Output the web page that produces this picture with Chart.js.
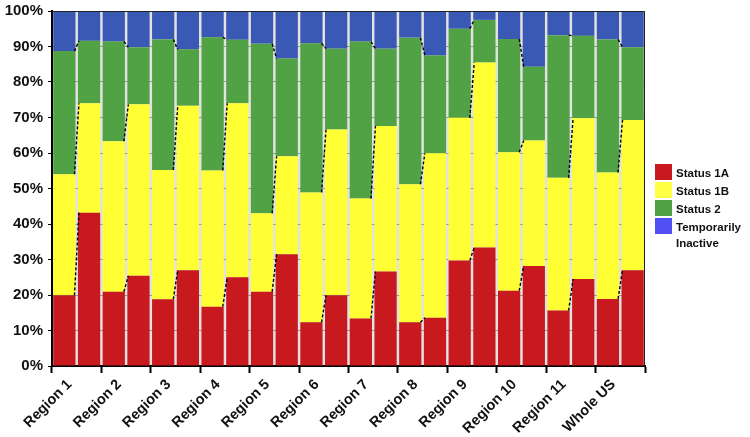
<!DOCTYPE html>
<html>
<head>
<meta charset="utf-8">
<script src="https://cdn.jsdelivr.net/npm/chart.js@4"></script>
<style>
    body { margin: 0; background: #fff; }
    #wrap { position: relative; width: 750px; height: 437px; font-family: Arial, "Liberation Sans", sans-serif; }
    #legend { position: absolute; left: 655px; top: 164px; }
    .item { position: relative; height: 18px; font-weight: bold; font-size: 11.5px; color: #111; }
    .item .box { position: absolute; left: 0; top: 0; width: 17px; height: 16px; }
    .item span { position: absolute; left: 21px; top: 1px; line-height: 16px; white-space: nowrap; }
</style>
</head>
<body>
<div id="wrap">
    <canvas id="chart" width="750" height="437"></canvas>
    <div id="legend"></div>
</div>
<script>
// Categories
const regions = ['Region 1', 'Region 2', 'Region 3', 'Region 4', 'Region 5', 'Region 6',
    'Region 7', 'Region 8', 'Region 9', 'Region 10', 'Region 11', 'Whole US'];

// First bar of each pair (percent)
const s1aFirst = [19.9, 20.9, 18.8, 16.7, 20.9, 12.3, 13.4, 12.3, 29.7, 21.2, 15.6, 18.9];
const s1bFirst = [34.1, 42.4, 36.4, 38.4, 22.1, 36.6, 33.8, 38.9, 40.2, 39.0, 37.4, 35.6];
const s2First  = [34.7, 28.1, 36.8, 37.5, 47.8, 42.0, 44.2, 41.3, 25.1, 31.9, 40.2, 37.5];
const tiFirst  = [11.3, 8.6, 8.0, 7.4, 9.2, 9.1, 8.6, 7.5, 5.0, 7.9, 6.8, 8.0];

// Second bar of each pair (percent)
const s1aSecond = [43.2, 25.4, 27.0, 25.0, 31.5, 19.9, 26.6, 13.6, 33.4, 28.2, 24.5, 27.0];
const s1bSecond = [30.8, 48.3, 46.3, 49.0, 27.6, 46.7, 41.0, 46.3, 52.1, 35.3, 45.3, 42.3];
const s2Second  = [17.6, 16.1, 15.9, 17.9, 27.5, 22.8, 21.8, 27.6, 12.0, 20.8, 23.2, 20.5];
const tiSecond  = [8.4, 10.2, 10.8, 8.1, 13.4, 10.6, 10.6, 12.5, 2.5, 15.7, 7.0, 10.2];

const yTicks = [0, 10, 20, 30, 40, 50, 60, 70, 80, 90, 100];

const statusNames = ['Status 1A', 'Status 1B', 'Status 2', 'Temporarily Inactive'];
const barColors = ['#c8191e', '#ffff33', '#51a145', '#3a59b4'];
const legendColors = ['#c8191e', '#ffff44', '#51a145', '#5050f5'];

const firstSets = [s1aFirst, s1bFirst, s2First, tiFirst];
const secondSets = [s1aSecond, s1bSecond, s2Second, tiSecond];

const datasets = [];
firstSets.forEach((d, i) => {
    datasets.push({ label: statusNames[i], data: d, backgroundColor: barColors[i], stack: 'first' });
});
secondSets.forEach((d, i) => {
    datasets.push({ label: statusNames[i], data: d, backgroundColor: barColors[i], stack: 'second' });
});

// Grey background behind bars, box border and dashed connectors
const pairPlugin = {
    id: 'pairPlugin',
    beforeDraw(chart) {
        const a = chart.chartArea;
        const ctx = chart.ctx;
        ctx.save();
        ctx.fillStyle = '#e2e2e2';
        ctx.fillRect(a.left, a.top, a.right - a.left, a.bottom - a.top);
        ctx.restore();
    },
    afterDatasetsDraw(chart) {
        const ctx = chart.ctx;
        ctx.save();
        ctx.strokeStyle = '#000';
        ctx.lineWidth = 1.4;
        ctx.setLineDash([3, 2]);
        for (let s = 0; s < 3; s++) {
            const metaA = chart.getDatasetMeta(s);
            const metaB = chart.getDatasetMeta(s + 4);
            metaA.data.forEach((elA, i) => {
                const elB = metaB.data[i];
                ctx.beginPath();
                ctx.moveTo(elA.x + elA.width / 2 - 1, elA.y);
                ctx.lineTo(elB.x - elB.width / 2 + 1, elB.y);
                ctx.stroke();
            });
        }
        ctx.setLineDash([]);
        const a = chart.chartArea;
        ctx.lineWidth = 1;
        ctx.strokeStyle = '#222';
        ctx.beginPath();
        ctx.moveTo(a.left, a.top + 0.5);
        ctx.lineTo(a.right - 0.5, a.top + 0.5);
        ctx.lineTo(a.right - 0.5, a.bottom);
        ctx.stroke();
        ctx.restore();
    }
};

new Chart(document.getElementById('chart'), {
    type: 'bar',
    data: { labels: regions, datasets: datasets },
    options: {
        responsive: false,
        devicePixelRatio: 1,
        animation: false,
        layout: { padding: { top: 11, right: 105, left: 0, bottom: 0 } },
        datasets: { bar: { categoryPercentage: 1, barPercentage: 0.9, borderWidth: 0 } },
        plugins: { legend: { display: false }, tooltip: { enabled: false } },
        scales: {
            x: {
                stacked: true,
                afterFit: (scale) => { scale.height = 71; },
                grid: { display: true, drawOnChartArea: false, offset: true, tickLength: 7, tickColor: '#000', tickWidth: 2 },
                border: { color: '#000', width: 2 },
                ticks: {
                    minRotation: 45, maxRotation: 45, padding: 3, labelOffset: -7, color: '#111',
                    font: { family: 'Arial, "Liberation Sans"', size: 14.5, weight: 'bold' }
                }
            },
            y: {
                stacked: true,
                min: 0, max: 100,
                afterFit: (scale) => { scale.width = 52; scale.paddingTop = 0; scale.paddingBottom = 0; },
                afterBuildTicks: (scale) => { scale.ticks = yTicks.map(v => ({ value: v })); },
                grid: { color: '#999', tickColor: '#000', tickLength: 4 },
                border: { color: '#000', width: 2 },
                ticks: {
                    padding: 5, color: '#111',
                    font: { family: 'Arial, "Liberation Sans"', size: 15, weight: 'bold' },
                    callback: (v) => v + '%'
                }
            }
        }
    },
    plugins: [pairPlugin]
});

// Legend built from the same names and colours
const legend = document.getElementById('legend');
const legendLines = [['Status 1A'], ['Status 1B'], ['Status 2'], ['Temporarily', 'Inactive']];
legendLines.forEach((lines, i) => {
    const item = document.createElement('div');
    item.className = 'item';
    item.innerHTML = '<div class="box" style="background:' + legendColors[i] + '"></div><span>' + lines.join('<br>') + '</span>';
    legend.appendChild(item);
});
</script>
</body>
</html>
